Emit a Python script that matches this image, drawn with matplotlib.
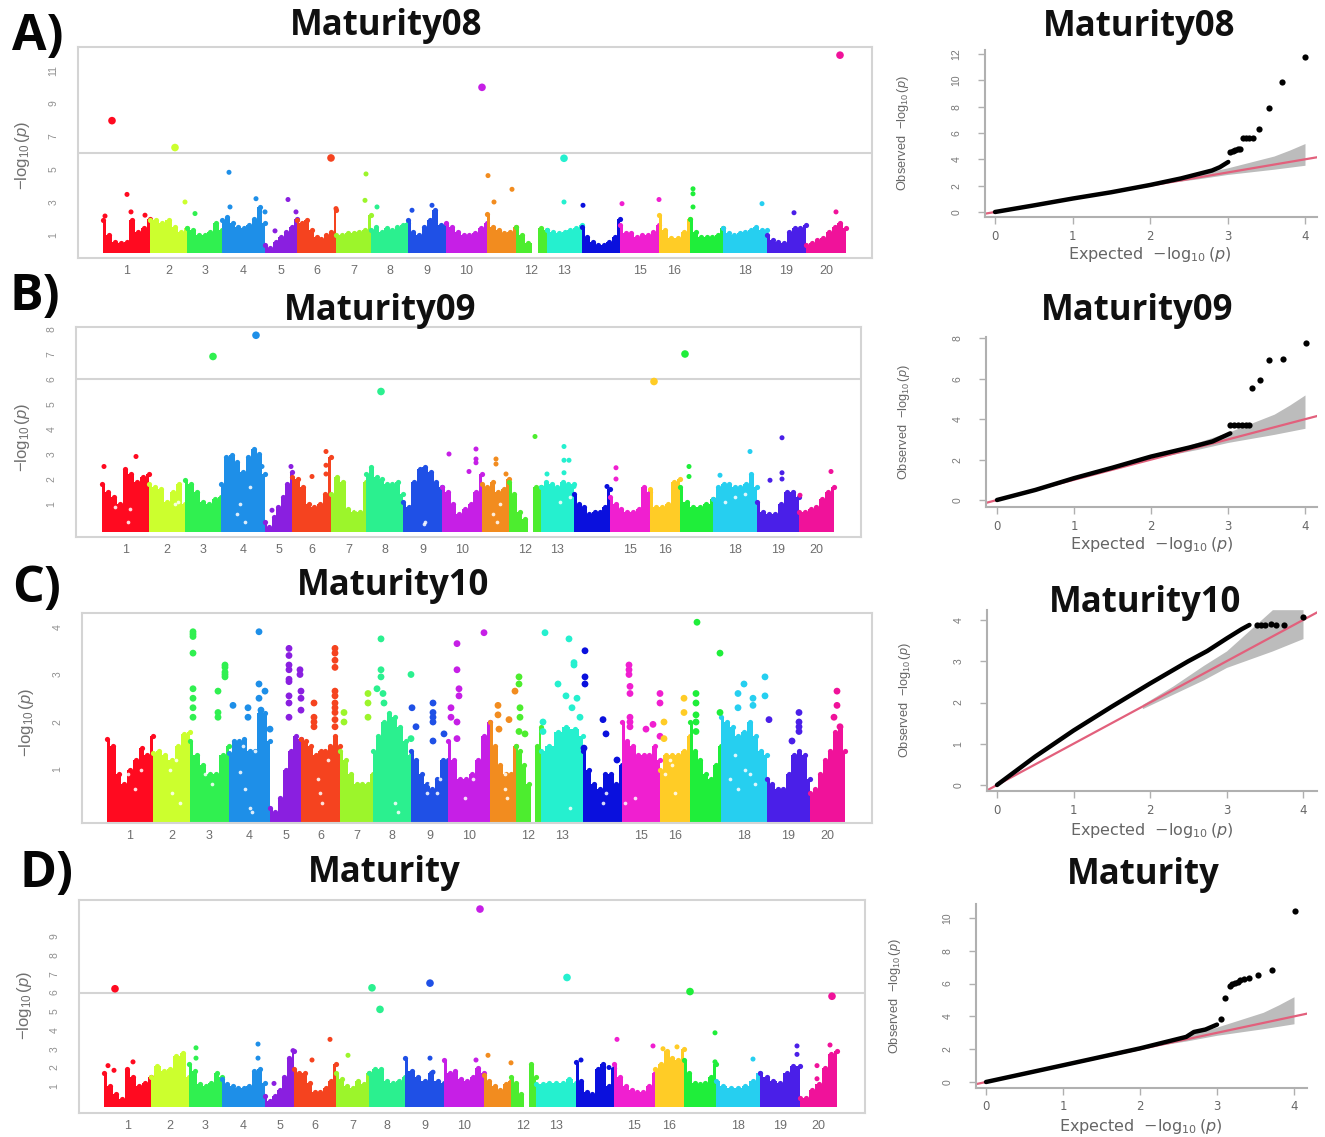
import numpy as np
import matplotlib
matplotlib.use("Agg")
import matplotlib.pyplot as plt

W, H = 1325, 1137
plt.rcParams['font.family'] = ['Liberation Sans', 'DejaVu Sans']
plt.rcParams['mathtext.fontset'] = 'custom'
plt.rcParams['mathtext.rm'] = 'Liberation Sans'
plt.rcParams['mathtext.it'] = 'Liberation Sans:italic'
plt.rcParams['mathtext.bf'] = 'Liberation Sans:bold'

chrom_colors = ['#ff0a20', '#ccff2e', '#30f050', '#1e8fe8', '#8a1fe0', '#f5431f', '#9cf52b',
                '#2bf08f', '#1f50e6', '#c61fe6', '#f28c1f', '#4ded2f', '#25f0cf', '#0a10dd',
                '#f01fd0', '#ffcc26', '#1fee3a', '#26cff0', '#4a1fe8', '#f0129a']
chrom_labels = ['1', '2', '3', '4', '5', '6', '7', '8', '9', '10', '', '12', '13', '', '15', '16', '', '18', '19', '20']

# ---- Manhattan A
A_edges = [103, 150, 187, 222, 265, 297, 336, 371, 408, 446, 487, 516, 547, 582, 620, 659, 690, 723, 767, 806, 846]
A_env = [[1.9, 1.0, .55, .5, .55, 1.9, 1.2, 1.4, 2.0], [1.9, 1.9, 1.75, 1.9, 1.5, 1.2, 1.4],
         [1.4, 1.3, 1.0, 1.0, 1.2, 1.7, 1.3], [1.9, 2.1, 1.7, 1.5, 1.4, 1.6, 2.0, 2.7, 1.7],
         [.4, .2, .6, .9, 1.2, 1.5, 2.0], [1.9, 1.7, 1.9, 1.3, .9, .75, 1.0, 1.2, 2.5],
         [1.0, 1.0, 1.1, 1.1, 1.2, 1.3, 2.2], [1.3, 1.5, 1.2, 1.4, 1.3, 1.5, 1.6, 1.7],
         [1.9, 1.2, 1.0, 1.5, 1.9, 2.5, 1.6, 1.6], [1.7, 1.5, 1.2, 1.0, 1.0, 1.1, 1.4, 1.7],
         [2.3, 1.5, 1.3, 1.1, 1.2, 1.5], [1.5, 1.0, .5, -.1, 1.4, 1.3],
         [1.3, 1.2, 1.1, 1.2, 1.3, 1.4, 1.6], [1.5, .9, .55, .4, .4, .6, .9, 2.0],
         [1.6, 1.1, 1.1, .9, 1.0, 1.0, 1.2, 1.6], [2.2, 1.3, .8, .8, 1.2, 2.0],
         [2.0, 1.2, .9, .9, .9, 1.0, 1.4], [1.4, 1.1, 1.0, 1.1, 1.2, 1.3, 1.5, 1.3, 1.3],
         [1.0, .7, .6, .5, 1.2, 1.4, 1.4, 1.6], [.4, .5, .7, .8, 1.2, 1.5, 1.7, 1.4]]
A_hit_x = [112, 127, 175, 185, 229, 256, 275, 288, 331, 366, 365, 482, 488, 494, 512, 564, 564, 583, 622, 659, 693, 693, 693,
           762, 794, 836, 840, 105, 131, 145, 195, 230, 265, 296, 336, 412, 432, 377]
A_hit_y = [7.93, 3.46, 6.3, 3.0, 4.8, 3.2, 1.25, 3.15, 5.67, 4.7, 3.1, 9.95, 4.6, 3.0, 3.77, 5.65, 3.0, 2.8, 2.9, 3.15, 3.8, 3.5, 2.7,
           2.9, 2.35, 2.4, 11.9, 2.15, 2.4, 2.2, 2.3, 2.7, 2.4, 2.4, 2.6, 2.5, 2.8, 2.7]
A_yticks = [1, 3, 5, 7, 9, 11]

# ---- Manhattan B
B_edges = [102, 149, 185, 221, 265, 292, 331, 366, 403, 442, 482, 509, 541, 574, 610, 650, 680, 713, 757, 799, 834]
B_env = [[1.8, 1.5, 1.3, 1.0, 2.4, 2.2, 1.9, 2.1, 2.2], [1.8, 1.7, 1.6, 1.1, 1.5, 1.8, 1.0],
         [1.95, 1.8, 1.5, 1.1, 1.0, 1.2, 1.3], [1.8, 2.9, 2.95, 2.7, 2.3, 2.9, 3.2, 3.0, 2.2],
         [.3, .1, .5, .9, 1.3, 1.8, 2.3], [2.1, 2.0, 1.7, 1.0, .9, 1.0, 1.4, 2.9],
         [1.4, 2.1, 1.9, .8, .7, .7, 1.9], [2.2, 2.5, 2.1, 2.0, 1.8, 1.8, 1.9, 1.4],
         [1.1, .9, 1.9, 2.4, 2.5, 2.3, 1.9, 1.7], [1.7, 1.5, 1.0, .6, .8, 1.0, 1.5, 2.2],
         [1.8, 1.7, 1.9, 1.5, 1.6, 2.0], [1.9, 1.4, .7, .4, -.1, 1.7, 1.7],
         [1.7, 1.9, 1.8, 1.7, 1.9, 1.8, 1.8], [1.4, 1.0, .9, .6, .7, .7, .9, 1.6],
         [1.3, 1.0, .8, .7, .7, .8, 1.7, 1.5], [1.6, .9, .9, 1.0, 1.9, 2.0],
         [1.7, 1.1, .9, .9, 1.0, 1.2], [1.2, 1.7, 1.8, 1.8, 1.7, 1.7, 1.8, 2.2, 1.7],
         [1.1, .7, .6, .6, 1.0, 1.5, 1.5, 1.3], [.7, .7, .8, .9, 1.2, 1.5, 1.7]]
B_hit_x = [104, 136, 213, 256, 262, 272, 291, 326, 326, 326, 312, 381, 449, 476, 476, 476, 469, 496, 496, 506, 535, 564, 564, 569,
           564, 547, 607, 574, 616, 616, 654, 685, 689, 689, 720, 750, 782, 782, 782, 770, 831, 800]
B_hit_y = [2.5, 2.9, 6.9, 7.75, 2.5, .75, 2.5, 3.1, 2.55, 2.2, 2.1, 5.5, 3.0, 3.2, 2.8, 2.65, 2.3, 2.8, 2.6, 2.2, 3.7, 3.3, 2.75, 2.75,
           2.25, 2.2, 1.7, 1.7, 2.45, 2.0, 5.9, 7.0, 2.5, 2.1, 2.15, 3.1, 3.65, 2.25, 2.0, 1.95, 2.3, 1.35]
B_gap_x = [425, 424, 128, 130, 115, 240, 250, 237, 245, 493, 497, 500, 570, 560, 725, 735, 745, 178, 175, 352, 356]
B_gap_y = [.3, .2, .3, .8, .9, 1.0, 1.7, .6, .3, .6, .3, 1.0, 1.3, 1.1, 1.1, 1.3, 1.4, 1.1, 1.0, .9, .8]
B_yticks = [1, 2, 3, 4, 5, 6, 7, 8]

# ---- Manhattan C
C_edges = [107, 153, 190, 229, 270, 301, 340, 373, 411, 448, 490, 516, 541, 583, 622, 660, 690, 721, 767, 810, 845]
C_env = [[1.65, 1.5, .9, .7, 1.0, 1.2, 1.45, 1.3, 1.7], [1.35, 1.4, 1.3, 1.2, 1.5, 1.75, 1.8],
         [1.6, 1.3, 1.1, .9, .9, 1.3, 1.5], [1.35, 1.6, 1.6, 1.65, 1.4, 1.4, 2.2, 2.2, 1.6],
         [.2, .1, .4, 1.0, 1.4, 1.7, 1.65], [1.65, 1.6, 1.5, 1.3, 1.4, 1.4, 1.5, 1.7, 1.5],
         [1.4, 1.2, .9, .7, .7, .7, .9], [1.4, 1.7, 2.0, 2.2, 2.1, 1.9, 1.6, 1.3],
         [1.4, 1.2, .9, .7, .6, .8, 1.2, 1.2], [1.6, 1.2, .8, .8, .9, 1.2, 1.7, 2.0],
         [2.0, 1.5, 1.1, .9, .9, 1.5], [1.5, 1.4, 1.1, .7, -.1, 1.5, 1.9],
         [1.4, 1.5, 1.8, 1.9, 1.85, 1.7], [1.4, 1.0, .7, .6, .9, .9, .7, 1.1],
         [2.0, 1.6, 1.5, 1.3, 1.3, 1.3, 1.5, 1.2], [1.0, 1.3, 1.3, 1.3, 1.4, 1.7],
         [2.0, 1.4, 1.2, .9, .8, 1.1, 1.5], [2.1, 2.0, 1.9, 1.7, 1.8, 2.0, 1.7, 1.4, 1.3],
         [.8, .7, .6, .6, .9, 1.3, 1.4, 1.3, .8], [.5, .6, .9, 1.2, 1.4, 1.8, 1.9, 1.4]]
C_hit_x = [193, 193, 193, 193, 193, 193, 193, 193, 225, 225, 225, 225, 225, 218, 218, 218, 233,
           259, 259, 265, 259, 248, 261, 248, 270,
           289, 289, 289, 289, 289, 289, 289, 289, 289, 300, 300, 301, 301, 301, 314, 314, 314, 314,
           335, 335, 335, 335, 335, 335, 335, 335, 335, 335, 335, 344, 344, 368, 368, 368,
           381, 381, 381, 377, 383, 384, 411, 412, 416, 411, 433, 433, 433, 433, 444, 433,
           457, 457, 459, 459, 451, 451, 457, 457, 484, 498, 498, 509, 499,
           519, 519, 515, 520, 520, 519, 525, 545, 543, 543,
           569, 574, 574, 585, 585, 585, 558, 566, 577, 572, 580, 603, 606, 584, 617,
           629, 629, 629, 630, 630, 630, 630, 630, 646, 653, 660, 660, 660, 664, 664,
           684, 684, 697, 696, 696, 696, 696, 696, 720, 720, 765, 744, 738, 753, 753, 765, 738, 769,
           799, 799, 799, 799, 792, 837, 837, 834, 840]
C_hit_y = [3.9, 3.85, 3.8, 3.45, 2.7, 2.5, 2.3, 2.1, 3.2, 3.15, 3.05, 3.0, 2.95, 2.65, 2.2, 2.1, 2.35,
           3.9, 2.8, 2.65, 2.5, 2.3, 2.25, 2.1, 1.85,
           3.55, 3.4, 3.2, 3.1, 2.9, 2.85, 2.55, 2.4, 2.1, 3.1, 3.0, 2.65, 2.5, 2.25, 2.4, 2.1, 2.0, 1.9,
           3.55, 3.45, 3.3, 3.15, 2.65, 2.55, 2.4, 2.3, 2.2, 2.05, 1.9, 2.2, 2.0, 2.6, 2.4, 2.1,
           3.75, 3.1, 2.95, 2.7, 2.6, 2.4, 3.0, 2.3, 1.9, 1.65, 2.4, 2.2, 2.1, 2.0, 1.75, 1.6,
           3.65, 3.1, 2.7, 2.55, 2.3, 2.1, 2.0, 1.65, 3.88, 2.35, 2.15, 2.05, 1.85,
           2.95, 2.8, 2.65, 2.3, 2.1, 1.8, 1.75, 3.88, 2.0, 1.8,
           3.75, 3.25, 3.2, 3.5, 2.95, 2.8, 2.8, 2.55, 2.5, 2.3, 2.1, 2.05, 1.75, 1.45, 1.2,
           3.2, 3.1, 3.0, 2.75, 2.6, 2.1, 2.0, 1.9, 1.85, 1.95, 2.6, 2.4, 1.7, 2.0, 1.65,
           2.5, 2.2, 4.1, 2.6, 2.4, 2.15, 2.0, 1.8, 3.45, 2.2, 2.95, 2.8, 2.6, 2.5, 2.35, 2.55, 2.3, 2.05,
           2.2, 2.0, 1.9, 1.8, 1.6, 2.65, 2.35, 2.1, 1.9]
C_gap_x = [170, 172, 176, 180, 205, 212, 240, 245, 250, 252, 255, 243, 320, 322, 318, 328, 395, 398, 430, 433, 427, 437, 440,
           505, 505, 507, 570, 625, 635, 665, 672, 675, 670, 735, 745, 750, 738, 755, 730, 465, 473, 603, 606, 128, 135, 141]
C_gap_y = [1.0, .5, 1.2, .3, .9, .7, .95, .6, .2, .1, 1.4, 1.5, .5, .3, .8, 1.2, .3, .1, .7, .9, .5, .5, .8,
           .6, .9, .4, .2, .3, .4, .9, 1.1, .5, 1.2, 1.3, 1.0, .9, .6, .7, .8, .4, .8, .3, .5, .9, .6, 1.0]
C_yticks = [1, 2, 3, 4]

# ---- Manhattan D
D_edges = [104, 151, 189, 222, 265, 294, 336, 369, 405, 444, 484, 511, 536, 576, 614, 655, 684, 716, 760, 800, 837]
D_env = [[1.7, 1.0, .6, .3, 1.9, 1.5, 1.0, 1.2, 1.5], [1.5, 2.1, 1.8, 1.9, 2.6, 2.8, 1.5],
         [2.2, 1.8, 1.1, 1.0, 1.2, 1.7, 1.5], [1.4, 1.1, 1.0, .9, .9, 1.0, 1.8, 1.9, 1.2],
         [.5, .2, .5, .8, 1.5, 2.5, 2.9], [1.9, 1.7, 1.7, 1.2, .7, .7, .9, 1.3, 2.2],
         [1.7, 1.4, 1.0, .9, 1.3, 1.1, 1.7], [1.7, 1.9, 1.9, 1.3, 1.2, 1.3, 1.5],
         [2.5, 1.8, 1.5, 1.3, 1.7, 1.3, 1.2], [2.4, 1.7, 1.8, 1.4, 1.3, 1.5, 2.0, 1.7],
         [1.6, 1.3, 1.0, .8, 1.1, 1.3], [1.5, 1.2, .6, -.1, 2.2, 1.5],
         [1.1, 1.1, 1.2, 1.2, 1.2, 1.4, 1.2], [2.3, 1.3, .7, .6, 1.9, 2.2, 1.0, 2.0],
         [2.2, 1.5, 1.0, .8, .7, .7, 1.0, 1.7], [1.9, 2.2, 2.9, 2.5, 2.4, 3.0],
         [2.4, 1.7, 1.2, 1.1, 1.2, 1.5, 2.2], [1.3, 1.0, .9, .9, 1.0, 1.3, 1.7],
         [1.7, 1.5, 1.3, 1.2, 1.7, 2.1, 2.1], [.4, .4, .8, 1.1, 2.0, 2.7, 2.9]]
D_hit_x = [115, 108, 114, 133, 196, 196, 258, 258, 274, 277, 293, 312, 330, 348, 372, 380, 430, 430, 433, 476, 480, 488, 511, 567,
           581, 609, 617, 653, 690, 715, 715, 753, 797, 797, 830, 832, 817, 817, 677, 663]
D_hit_y = [6.2, 2.1, 1.85, 2.3, 3.05, 2.5, 3.25, 2.5, 1.15, .35, 2.9, 2.4, 3.5, 2.65, 6.25, 5.1, 6.5, 2.5, 1.75, 2.4, 10.45, 2.65, 2.25, 6.8,
           2.4, 2.0, 3.5, 3.15, 6.05, 3.85, 2.3, 2.45, 3.15, 2.7, 3.2, 5.8, 2.1, 1.4, 3.1, 3.0]
D_yticks = [1, 2, 3, 4, 5, 6, 7, 8, 9]

# ---- QQ plots: bulk line, tail points, confidence band
band_x = [2.2, 2.6, 3.0, 3.3, 3.6, 3.8, 4.0]
band_hi = [2.35, 2.85, 3.35, 3.8, 4.25, 4.7, 5.2]
band_lo = [2.2, 2.5, 2.85, 3.05, 3.25, 3.4, 3.55]

QA_x = [0, .5, 1, 1.5, 2, 2.4, 2.8, 2.9, 3.01]
QA_y = [0, .5, 1.02, 1.5, 2.05, 2.55, 3.15, 3.4, 3.8]
QA_tx = [3.03, 3.07, 3.1, 3.13, 3.16, 3.2, 3.24, 3.28, 3.33, 3.4, 3.53, 3.7, 4.0]
QA_ty = [4.56, 4.65, 4.7, 4.75, 4.8, 5.65, 5.65, 5.65, 5.65, 6.28, 7.9, 9.87, 11.8]
QA_yt = [0, 2, 4, 6, 8, 10, 12]

QB_x = [0, .5, 1, 1.5, 2, 2.2, 2.5, 2.8, 3.03]
QB_y = [0, .5, 1.08, 1.6, 2.15, 2.33, 2.6, 2.9, 3.3]
QB_tx = [3.03, 3.08, 3.13, 3.18, 3.23, 3.27, 3.31, 3.42, 3.53, 3.72, 4.01]
QB_ty = [3.7, 3.72, 3.72, 3.72, 3.72, 3.7, 5.53, 5.94, 6.93, 6.98, 7.79]
QB_yt = [0, 2, 4, 6, 8]

QC_x = [0, .5, 1, 1.5, 2, 2.5, 2.75, 3, 3.2, 3.3]
QC_y = [0, .69, 1.32, 1.9, 2.46, 3.0, 3.25, 3.55, 3.78, 3.88]
QC_tx = [3.4, 3.45, 3.5, 3.58, 3.65, 3.75, 4.0]
QC_ty = [3.87, 3.87, 3.88, 3.9, 3.88, 3.88, 4.07]
QC_band_x = [1.9, 2.3, 2.7, 3.0, 3.3, 3.6, 3.8, 4.0]
QC_band_hi = [1.95, 2.4, 2.9, 3.25, 3.75, 4.25, 4.25, 4.25]
QC_band_lo = [1.85, 2.2, 2.55, 2.85, 3.05, 3.25, 3.4, 3.55]
QC_yt = [0, 1, 2, 3, 4]

QD_x = [0, 1, 2, 2.6, 2.7, 2.85, 3.0]
QD_y = [0, 1.02, 2.05, 2.75, 3.05, 3.2, 3.5]
QD_tx = [3.05, 3.11, 3.17, 3.2, 3.23, 3.27, 3.3, 3.35, 3.41, 3.53, 3.72, 4.01]
QD_ty = [3.86, 5.12, 5.83, 5.95, 6.04, 6.12, 6.2, 6.28, 6.34, 6.5, 6.83, 10.45]
QD_yt = [0, 2, 4, 6, 8, 10]

GREY_BOX = '#d4d4d4'
GREY_TXT = '#6e6e6e'


def place(fig, l, t, r, b):
    return fig.add_axes([l / W, 1 - b / H, (r - l) / W, (b - t) / H])


def manhattan(fig, box, y0px, pxu, edges, env, hx, hy, yticks, gx=None, gy=None, big=5.0, hs=13):
    l, t, r, b = box
    ax = place(fig, l, t, r, b)
    ax.set_xlim(l, r)
    ax.set_ylim((y0px - b) / pxu, (y0px - t) / pxu)
    for i, vals in enumerate(env):
        xs = np.linspace(edges[i], edges[i + 1], len(vals))
        ax.fill_between(xs, -0.1, vals, step='mid', color=chrom_colors[i], lw=0, zorder=2)
        keep = np.array(vals) > 0
        ax.scatter(xs[keep], np.array(vals)[keep], s=14, color=chrom_colors[i], lw=0, zorder=2)
    if gx:
        ax.scatter(gx, gy, s=7, color='white', alpha=.85, lw=0, zorder=3)
    hx = np.array(hx)
    hy = np.array(hy)
    idx = np.clip(np.searchsorted(edges, hx) - 1, 0, 19)
    cols = [chrom_colors[i] for i in idx]
    sizes = np.where(hy >= big, 30, hs)
    ax.scatter(hx, hy, s=sizes, c=cols, lw=0, zorder=4)
    for s in ax.spines.values():
        s.set_color(GREY_BOX)
        s.set_linewidth(1.5)
    mids = [(edges[i] + edges[i + 1]) / 2 for i in range(20)]
    ax.set_xticks(mids)
    ax.set_xticklabels(chrom_labels, fontsize=9, color=GREY_TXT)
    ax.set_yticks(yticks)
    ax.set_yticklabels([str(v) for v in yticks], rotation=90, va='center', fontsize=7.5, color='#909090')
    ax.tick_params(axis='x', length=0, pad=5)
    ax.tick_params(axis='y', length=0, pad=14)
    return ax


def qq(fig, box, x0, x4, y0px, pxu, lx, ly, tx, ty, yt, bx, bh, bl, lab_x, lab_y, ylab_x):
    l, t, r, b = box
    ax = place(fig, l, t, r, b)
    pxx = (x4 - x0) / 4
    ax.set_xlim((l - x0) / pxx, (r - x0) / pxx)
    ax.set_ylim((y0px - b) / pxu, (y0px - t) / pxu)
    ax.fill_between(bx, bl, bh, color='#bcbcbc', lw=0, zorder=1)
    xl = ax.get_xlim()
    ax.plot(xl, xl, color='#e2607c', lw=1.6, zorder=2)
    ax.plot(lx, ly, color='black', lw=3.2, solid_capstyle='round', zorder=3)
    ax.scatter(tx, ty, s=20, color='black', lw=0, zorder=4)
    ax.spines['top'].set_visible(False)
    ax.spines['right'].set_visible(False)
    for k in ('left', 'bottom'):
        ax.spines[k].set_color('#b0b0b0')
        ax.spines[k].set_linewidth(1.5)
    ax.set_xticks([0, 1, 2, 3, 4])
    ax.set_xticklabels(['0', '1', '2', '3', '4'], fontsize=8.5, color='#666666', family='DejaVu Sans')
    ax.set_yticks(yt)
    ax.set_yticklabels([str(v) for v in yt], rotation=90, va='center', fontsize=7.5, color='#777777')
    ax.tick_params(length=5, width=1, color='#b0b0b0')
    ax.tick_params(axis='y', pad=12)
    ax.tick_params(axis='x', pad=4)
    fig.text(lab_x / W, 1 - lab_y / H, r'Expected  $-\log_{10}(p)$', fontsize=11.5, color='#666666',
             family='DejaVu Sans', math_fontfamily='dejavusans', ha='center', va='center')
    fig.text(ylab_x / W, 1 - (t + b) / 2 / H, r'Observed  $-\log_{10}(p)$', fontsize=9.2, color='#666666',
             rotation=90, ha='center', va='center')
    return ax


fig = plt.figure(figsize=(W / 100, H / 100), dpi=100, facecolor='white')

boxes = [(78, 47, 872, 258), (76, 327, 861, 537), (82, 613, 872, 823), (79, 900, 865, 1113)]
y0s = [(251.5, 16.5), (529, 25.0), (817, 47.5), (1105, 18.75)]

ax = manhattan(fig, boxes[0], *y0s[0], A_edges, A_env, A_hit_x, A_hit_y, A_yticks)
ax.axhline(6, color=GREY_BOX, lw=1.5, zorder=1)
ax = manhattan(fig, boxes[1], *y0s[1], B_edges, B_env, B_hit_x, B_hit_y, B_yticks, B_gap_x, B_gap_y)
ax.axhline(6, color=GREY_BOX, lw=1.5, zorder=1)
ax = manhattan(fig, boxes[2], *y0s[2], C_edges, C_env, C_hit_x, C_hit_y, C_yticks, C_gap_x, C_gap_y, big=9, hs=24)
ax = manhattan(fig, boxes[3], *y0s[3], D_edges, D_env, D_hit_x, D_hit_y, D_yticks)
ax.axhline(6, color=GREY_BOX, lw=1.5, zorder=1)

for (bx, by) in [(22, 155), (22, 437), (26, 722), (24, 1005)]:
    fig.text(bx / W, 1 - by / H, r'$-\log_{10}(p)$', rotation=90, fontsize=12, color='#707070', ha='center', va='center')

qq(fig, (985, 50, 1317, 217), 995, 1305, 212, 13.17, QA_x, QA_y, QA_tx, QA_ty, QA_yt, band_x, band_hi, band_lo, 1150, 254, 903)
qq(fig, (986, 337, 1317, 507), 997, 1305, 500, 20.2, QB_x, QB_y, QB_tx, QB_ty, QB_yt, band_x, band_hi, band_lo, 1152, 544, 904)
qq(fig, (987, 610, 1317, 791), 997, 1303, 785, 41.25, QC_x, QC_y, QC_tx, QC_ty, QC_yt, QC_band_x, QC_band_hi, QC_band_lo, 1152, 831, 905)
qq(fig, (976, 904, 1307, 1088), 986, 1294, 1082, 16.4, QD_x, QD_y, QD_tx, QD_ty, QD_yt, band_x, band_hi, band_lo, 1141, 1127, 895)

titles = [('Maturity08', 386, 26), ('Maturity08', 1139, 27), ('Maturity09', 380, 311), ('Maturity09', 1137, 311),
          ('Maturity10', 393, 586), ('Maturity10', 1145, 603), ('Maturity', 384, 873), ('Maturity', 1143, 875)]
for s, x, y in titles:
    fig.text(x / W, 1 - y / H, s, fontsize=25, fontweight='bold', family='Open Sans', color='#101010', ha='center', va='center', zorder=10)

for s, x, y in [('A)', 12, 50), ('B)', 10, 310), ('C)', 12, 602), ('D)', 20, 887)]:
    fig.text(x / W, 1 - y / H, s, fontsize=36, fontweight='bold', family='Open Sans', color='#050505', ha='left', va='baseline', zorder=10)

fig.savefig('out.png', dpi=100, facecolor='white')
